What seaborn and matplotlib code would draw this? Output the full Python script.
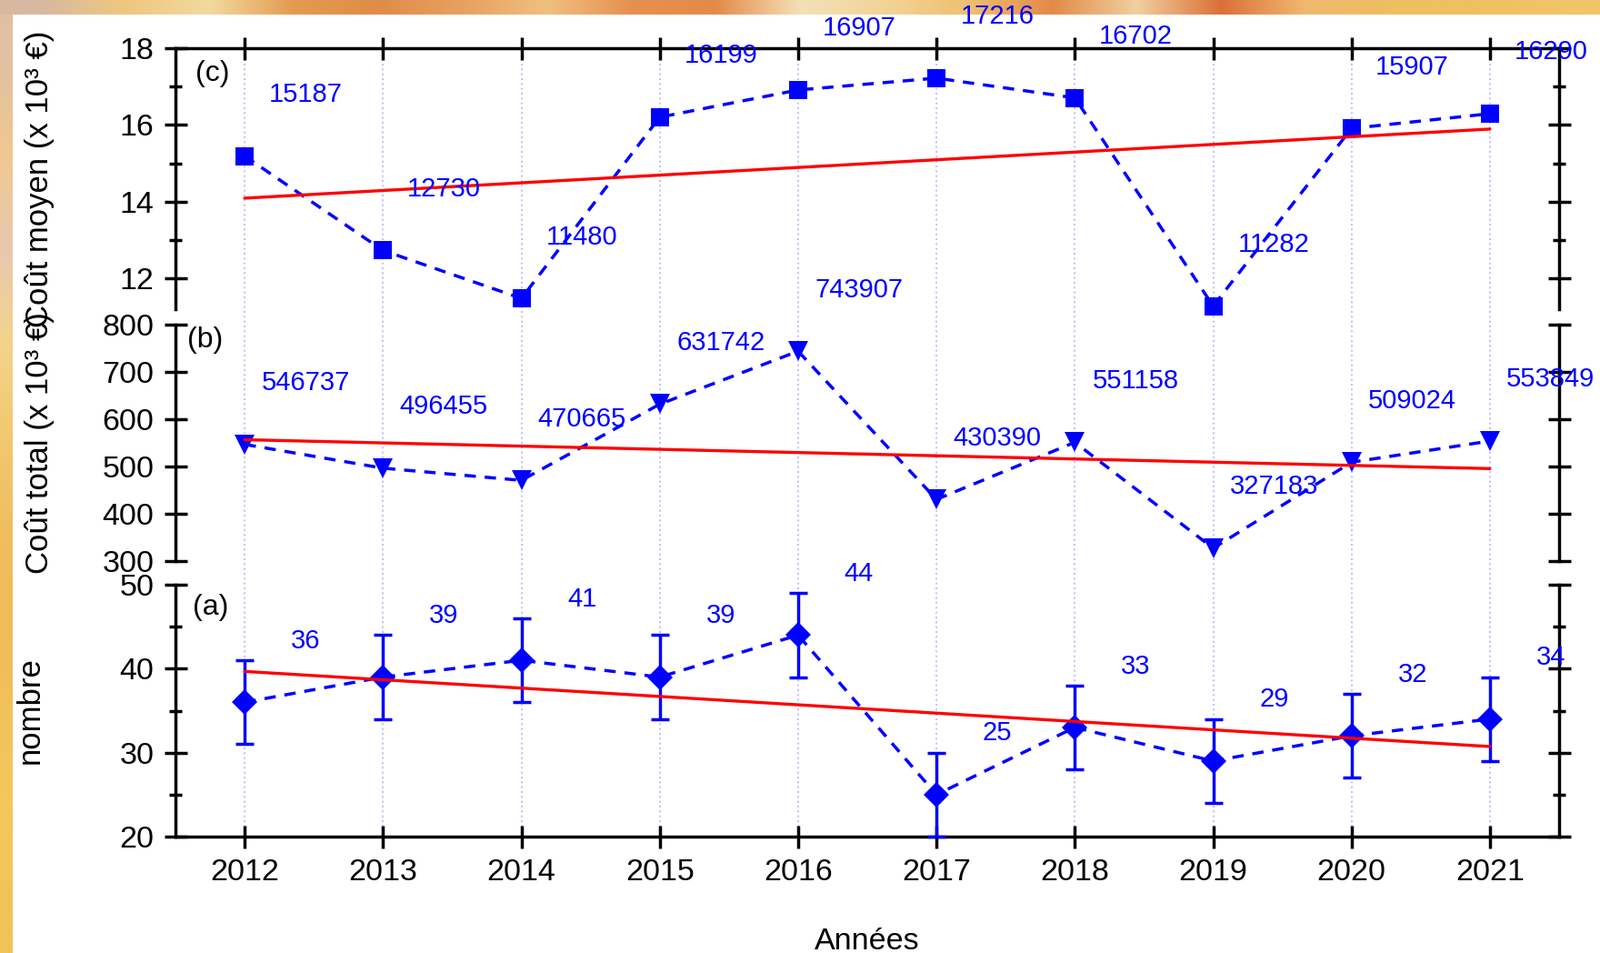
import numpy as np
import matplotlib
matplotlib.use("Agg")
import matplotlib.pyplot as plt
from matplotlib.ticker import FixedLocator
from matplotlib.colors import to_rgb
import seaborn as sns

# ---------------- data ----------------
years = [2012, 2013, 2014, 2015, 2016, 2017, 2018, 2019, 2020, 2021]

cout_moyen = [15.187, 12.730, 11.480, 16.199, 16.907, 17.216, 16.702, 11.282, 15.907, 16.290]
cout_moyen_labels = ["15187", "12730", "11480", "16199", "16907", "17216", "16702", "11282", "15907", "16290"]

cout_total = [546.737, 496.455, 470.665, 631.742, 743.907, 430.390, 551.158, 327.183, 509.024, 553.849]
cout_total_labels = ["546737", "496455", "470665", "631742", "743907", "430390", "551158", "327183", "509024", "553849"]

nombre = [36, 39, 41, 39, 44, 25, 33, 29, 32, 34]
nombre_err = [5, 5, 5, 5, 5, 5, 5, 5, 5, 5]
nombre_labels = ["36", "39", "41", "39", "44", "25", "33", "29", "32", "34"]

x_ticklabels = ["2012", "2013", "2014", "2015", "2016", "2017", "2018", "2019", "2020", "2021"]

# decorative background strip colours (screenshot backdrop)
top_strip_colors = ["#D8B8A0", "#EEC880", "#F2D9A0", "#E49A50", "#E08C48", "#E8A060",
                    "#F0C080", "#E69050", "#E48A48", "#F4E0B8", "#F2D498", "#EFC070",
                    "#E38A48", "#F0D0A0", "#DC7038", "#F0B870", "#EEBE60", "#F0C060", "#F2C468"]
left_strip_colors = ["#E0C0A0", "#F0C890", "#E8C8B0", "#F4D48A", "#F2C870", "#F0BE60",
                     "#F0BC58", "#F2C25C", "#F4C85A", "#F2C458"]

# ---------------- style ----------------
sns.set_theme(style="white")
plt.rcParams["font.family"] = ["Liberation Sans", "DejaVu Sans"]

BLUE = "#0000FF"
RED = "#FF0000"
GRID = "#B4B4FF"
LW = 2.5

W_PX, H_PX = 1760, 1048
fig = plt.figure(figsize=(W_PX / 100, H_PX / 100), dpi=100)
fig.patch.set_facecolor("white")

L = 193 / W_PX
R = 1715 / W_PX
W = R - L


def frac_rect(top_px, bottom_px):
    return [L, 1 - bottom_px / H_PX, W, (bottom_px - top_px) / H_PX]


pos_c = frac_rect(52.8, 340)
pos_b = frac_rect(357, 617)
pos_a = frac_rect(643, 920)

XLIM = (2011.5, 2021.5)

# decorative strips
strip_h = 16 / H_PX
ax_top = fig.add_axes([0, 1 - strip_h, 1, strip_h], zorder=-5)
ax_top.imshow(np.array([to_rgb(c) for c in top_strip_colors])[None, :, :],
              aspect="auto", interpolation="bilinear")
ax_top.set_axis_off()
ax_left = fig.add_axes([0, 0, 14 / W_PX, 1 - strip_h], zorder=-5)
ax_left.imshow(np.array([to_rgb(c) for c in left_strip_colors])[:, None, :],
               aspect="auto", interpolation="bilinear")
ax_left.set_axis_off()

# background axes carrying the dotted vertical grid across all panels
bg_bottom = pos_a[1]
bg_top = pos_c[1] + pos_c[3]
ax_bg = fig.add_axes([L, bg_bottom, W, bg_top - bg_bottom], zorder=-1)
ax_bg.set_xlim(XLIM)
ax_bg.set_xticks(years)
ax_bg.set_yticks([])
ax_bg.grid(axis="x", color=GRID, lw=1.2, linestyle=(0, (1.2, 2.0)))
ax_bg.tick_params(length=0, labelbottom=False, labelleft=False)
for s in ax_bg.spines.values():
    s.set_visible(False)
ax_bg.set_facecolor("white")


def draw_panel(ax, values, labels, marker, ms, ylim, yticks, yminor, offset,
               letter, letter_pos, err=None):
    ax.set_facecolor("none")
    before = set(ax.lines)
    if err is not None:
        ax.errorbar(years, values, yerr=err, fmt="none", ecolor=BLUE,
                    elinewidth=LW, capsize=7.5, capthick=LW, zorder=3, clip_on=False)
    sns.lineplot(x=years, y=values, ax=ax, color=BLUE, marker=marker,
                 markersize=ms, markeredgecolor=BLUE, markeredgewidth=0,
                 lw=LW, zorder=4, clip_on=False)
    for ln in ax.lines:
        if ln not in before and ln.get_marker() == marker:
            ln.set_linestyle((0, (3.6, 2.8)))
    sns.regplot(x=years, y=values, ax=ax, ci=None, scatter=False, truncate=True,
                color=RED, line_kws=dict(lw=2.4, zorder=5))
    ax.set_xlabel("")
    ax.set_ylabel("")
    ax.set_xlim(XLIM)
    ax.set_ylim(ylim)
    ax.set_yticks(yticks)
    ax.set_yticklabels([str(t) for t in yticks])
    ax.yaxis.set_minor_locator(FixedLocator(yminor))
    ax.set_xticks(years)
    ax.tick_params(axis="y", which="major", direction="inout", length=18, width=LW,
                   left=True, right=True, labelleft=True, labelright=False,
                   labelsize=24.5, pad=8, color="black", labelcolor="black")
    ax.tick_params(axis="y", which="minor", direction="inout", length=9.5, width=LW,
                   left=True, right=True, color="black")
    ax.tick_params(axis="x", which="minor", bottom=False, top=False)
    for s in ax.spines.values():
        s.set_color("black")
        s.set_linewidth(LW)
    for x, v, s in zip(years, values, labels):
        ax.text(x + 0.44, v + offset, s, color=BLUE, fontsize=21, ha="center",
                va="center", clip_on=False, zorder=10)
    ax.text(letter_pos[0], letter_pos[1], letter, transform=ax.transAxes,
            fontsize=23, ha="center", va="center", color="black")


ax_c = fig.add_axes(pos_c)
ax_b = fig.add_axes(pos_b)
ax_a = fig.add_axes(pos_a)

draw_panel(ax_c, cout_moyen, cout_moyen_labels, "s", 14, (11.2, 18),
           [12, 14, 16, 18], [13, 15, 17], 1.6, "(c)", (0.0266, 0.9025))
draw_panel(ax_b, cout_total, cout_total_labels, "v", 16.5, (300, 800),
           [300, 400, 500, 600, 700, 800], [], 130, "(b)", (0.0214, 0.935))
draw_panel(ax_a, nombre, nombre_labels, "D", 14, (20, 50),
           [20, 30, 40, 50], [25, 35, 45], 7.3, "(a)", (0.0251, 0.910), err=nombre_err)

# spines & x ticks
ax_c.spines["bottom"].set_visible(False)
ax_c.tick_params(axis="x", which="major", direction="inout", length=18, width=LW,
                 top=True, bottom=False, labeltop=False, labelbottom=False, color="black")
ax_b.spines["bottom"].set_visible(False)
ax_b.spines["top"].set_visible(False)
ax_b.tick_params(axis="x", which="major", top=False, bottom=False,
                 labeltop=False, labelbottom=False)
ax_a.spines["top"].set_visible(False)
ax_a.tick_params(axis="x", which="major", direction="inout", length=18, width=LW,
                 top=False, bottom=True, labelbottom=True, labelsize=24.5, pad=8,
                 color="black", labelcolor="black")
ax_a.set_xticklabels(x_ticklabels)

# axis titles
def ycenter(pos):
    return pos[1] + pos[3] / 2

fig.text(53 / W_PX, ycenter(pos_c), "Coût moyen (x 10³ €)", rotation=90,
         rotation_mode="anchor", ha="center", va="baseline", fontsize=25, color="black")
fig.text(53 / W_PX, ycenter(pos_b), "Coût total (x 10³ €)", rotation=90,
         rotation_mode="anchor", ha="center", va="baseline", fontsize=25, color="black")
fig.text(43 / W_PX, ycenter(pos_a), "nombre", rotation=90,
         rotation_mode="anchor", ha="center", va="baseline", fontsize=25, color="black")
fig.text(L + W / 2, 4 / H_PX, "Années", ha="center", va="baseline",
         fontsize=24.5, color="black")

fig.savefig("out.png", dpi=100, facecolor=fig.get_facecolor())
